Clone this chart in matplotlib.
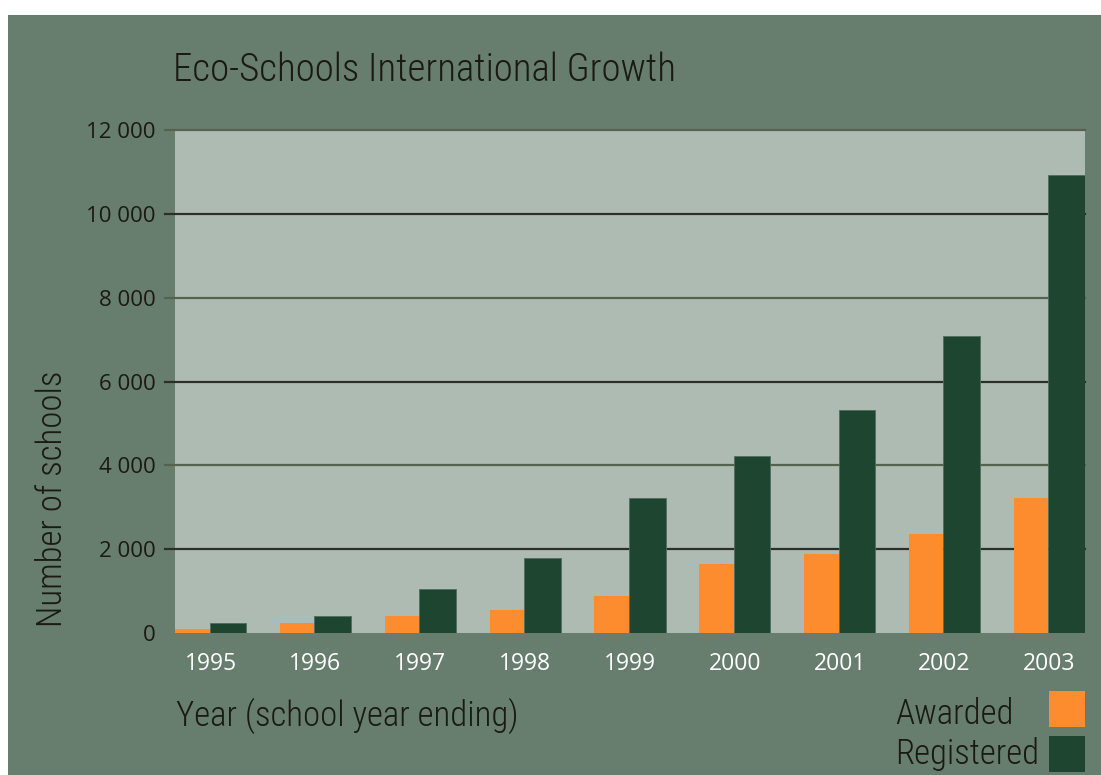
import numpy as np
import matplotlib.pyplot as plt
from matplotlib.patches import Rectangle

# data
years = ['1995', '1996', '1997', '1998', '1999', '2000', '2001', '2002', '2003']
awarded = [100, 240, 400, 555, 880, 1635, 1885, 2370, 3210]
registered = [240, 400, 1040, 1800, 3210, 4220, 5310, 7080, 10920]
y_ticks = [0, 2000, 4000, 6000, 8000, 10000, 12000]
series_names = ['Awarded', 'Registered']

bg = '#677e6e'
plot_bg = '#adbbb3'
orange = '#fd8c2e'
dark = '#1d4530'
ink = '#1a1a12'
narrow = dict(family=['Roboto Condensed', 'IBM Plex Sans Condensed', 'DejaVu Sans'],
              weight=300, stretch='condensed')
ticks_font = ['Open Sans', 'DejaVu Sans']

W, H = 1101, 775
fig = plt.figure(figsize=(W / 100, H / 100), dpi=100)
fig.patch.set_facecolor('white')
fig.add_artist(Rectangle((8 / W, 0), 1, (H - 15) / H, transform=fig.transFigure,
                         facecolor=bg, edgecolor='none', zorder=-10))

ax = fig.add_axes([175 / W, (H - 633) / H, 910 / W, 503 / H])
ax.set_facecolor(plot_bg)
for s in ax.spines.values():
    s.set_visible(False)

x = np.arange(len(years))
wa, wr = 0.33, 0.35
ax.bar(x, awarded, width=wa, align='edge', color=orange, zorder=3)
ax.bar(x + wa, registered, width=wr, align='edge', color=dark,
       edgecolor='#4f6d5c', linewidth=0.6, zorder=3)

ax.set_xlim(0, 8 + wa + wr)
ax.set_ylim(0, 12000)

# gridlines, alternating colours, extending a little left of the plot area
for t in y_ticks:
    if t == 0:
        continue
    col = '#2e2e28' if (t // 2000) % 2 == 1 else '#56624d'
    ax.axhline(t, xmin=-0.011, xmax=1, color=col, lw=1.6, zorder=1, clip_on=False)

ax.set_yticks(y_ticks)
ax.set_yticklabels([f"{t:,}".replace(',', ' ') for t in y_ticks],
                   family=ticks_font, fontsize=16, color=ink)
ax.set_xticks(x + (wa + wr) / 2)
ax.set_xticklabels(years, family=ticks_font, fontsize=16.5, color='white')
ax.tick_params(axis='y', length=0, pad=14)
ax.tick_params(axis='x', length=0, pad=14)

fig.text(173 / W, (H - 70) / H, 'Eco-Schools International Growth',
         fontsize=28, color=ink, ha='left', va='center', **narrow)
fig.text(52 / W, (H - 499) / H, 'Number of schools', fontsize=25,
         color=ink, rotation=90, ha='center', va='center', **narrow)
fig.text(176 / W, (H - 716) / H, 'Year (school year ending)',
         fontsize=25, color=ink, ha='left', va='center', **narrow)

# legend: left-aligned labels with swatches on the right
for i, (name, col) in enumerate(zip(series_names, [orange, dark])):
    fig.text(895 / W, (H - 724 - 40 * i) / H, name, fontsize=25, color=ink,
             ha='left', va='baseline', **narrow)
    fig.add_artist(Rectangle((1049 / W, (H - 727 - 45 * i) / H), 36 / W, 36 / H,
                             transform=fig.transFigure, facecolor=col,
                             edgecolor='none'))

fig.savefig('out.png', dpi=100, facecolor=fig.get_facecolor())
